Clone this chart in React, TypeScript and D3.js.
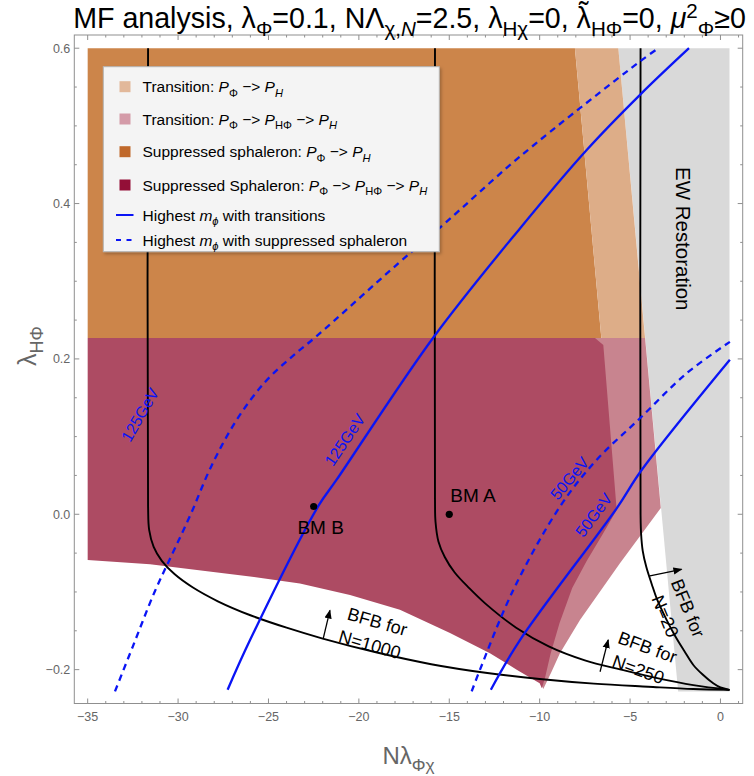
import React from 'react';
import * as d3 from 'd3';

type Pt = [number, number];

const W = 754;
const H = 776;

// Axis ticks
const xTicksMajor = [-35, -30, -25, -20, -15, -10, -5, 0];
const yTicksMajor = [-0.2, 0, 0.2, 0.4, 0.6];

// Regions in (NλΦχ, λHΦ)
const ewRestoration: Pt[] = [[-5.65, 0.6], [0.5, 0.6], [0.5, -0.228], [-2.34, -0.228]];
const suppressedPH: Pt[] = [[-35, 0.6], [-8.05, 0.6], [-6.59, 0.227], [-35, 0.227]];
const transitionPH: Pt[] = [[-8.05, 0.6], [-5.65, 0.6], [-4.17, 0.227], [-6.59, 0.227]];
const transitionPHPhi: Pt[] = [
  [-7.0, 0.227], [-4.17, 0.227], [-3.3, 0.008], [-5.56, -0.063], [-7.77, -0.136],
  [-8.88, -0.179], [-9.35, -0.203], [-9.8, -0.225], [-10.3, -0.2], [-7.5, 0.0],
];
const suppressedPHPhi: Pt[] = [
  [-35, 0.227], [-6.94, 0.227], [-6.48, 0.218], [-5.74, 0.0055], [-6.5, -0.025],
  [-7.4, -0.06], [-8.2, -0.095], [-8.9, -0.14], [-9.4, -0.18], [-9.7, -0.21],
  [-9.88, -0.224], [-10.0, -0.2176], [-11.27, -0.2], [-12.75, -0.179], [-14.96, -0.153],
  [-17.73, -0.123], [-20.49, -0.104], [-23.26, -0.089], [-26.02, -0.08], [-31.55, -0.0644],
  [-35, -0.0589],
];

// Boundedness-from-below curves
const bfb1000: Pt[] = [
  [-31.66, 0.6], [-31.66, 0.01], [-31.6, -0.02], [-31.35, -0.042], [-30.9, -0.06],
  [-30.2, -0.077], [-29.2, -0.094], [-27.8, -0.112], [-26.0, -0.13], [-24, -0.146],
  [-22, -0.16], [-19, -0.178], [-16, -0.193], [-13, -0.204], [-10, -0.212], [-7, -0.218],
  [-4, -0.222], [-1.5, -0.225], [0.5, -0.226],
];
const bfb250: Pt[] = [
  [-15.79, 0.6], [-15.79, 0.02], [-15.76, -0.01], [-15.6, -0.035], [-15.25, -0.055],
  [-14.7, -0.075], [-13.9, -0.095], [-13.0, -0.115], [-11.3, -0.146], [-9.5, -0.17],
  [-7.5, -0.188], [-5.5, -0.2], [-3.5, -0.211], [-1.5, -0.22], [0.5, -0.226],
];
const bfb20: Pt[] = [
  [-4.42, 0.6], [-4.42, 0.0], [-4.39, -0.025], [-4.3, -0.047], [-4.1, -0.068],
  [-3.8, -0.09], [-3.5, -0.11], [-3.0, -0.135], [-2.5, -0.157], [-2.0, -0.176],
  [-1.5, -0.194], [-1.0, -0.206], [-0.4, -0.2176], [0.0, -0.223], [0.5, -0.226],
];

// Highest mϕ contours
const solid125: Pt[] = [
  [-27.26, -0.226], [-26.02, -0.162], [-22.24, 0.0107], [-21.23, 0.0445], [-15.9, 0.227],
  [-11.09, 0.368], [-7.4, 0.469], [-4.45, 0.54], [-1.74, 0.6],
];
const dashed125: Pt[] = [
  [-33.49, -0.228], [-32.5, -0.17], [-31.3, -0.1], [-30.3, -0.05], [-29.3, 0.0],
  [-28.2, 0.06], [-26.8, 0.12], [-25.2, 0.17], [-23.6, 0.205], [-22.4, 0.228],
  [-17.82, 0.323], [-15.24, 0.3747], [-11.09, 0.4605], [-4.45, 0.583], [-3.44, 0.6],
];
const solid50: Pt[] = [
  [-12.7, -0.226], [-11.09, -0.162], [-5.74, 0.0077], [-4.36, 0.057], [0.52, 0.199],
];
const dashed50: Pt[] = [
  [-13.76, -0.228], [-13.3, -0.2], [-11.46, -0.0975], [-8.88, 0.0098], [-6.85, 0.07],
  [-4.45, 0.1236], [-1.87, 0.1815], [0.52, 0.222],
];

// Benchmark points
const benchmarks = [
  { name: 'BM A', x: -15.0, y: 0.0, dx: 1, dy: -12, anchor: 'start' },
  { name: 'BM B', x: -22.5, y: 0.01, dx: 7, dy: 27, anchor: 'middle' },
];

// Region colours
const cGray = '#d9d9d9';
const cOrange = '#cc854a';
const cPeach = '#ddad88';
const cCrimson = '#ad4b63';
const cPink = '#c8848f';
const cBlue = '#0a14f5';

// [text, kind, dx in em]
type Seg = [string, string, number?];

function Rich({ segs, fs, x, y, anchor, fill, transform, family }: {
  segs: Seg[]; fs: number; x: number; y: number; anchor?: string; fill?: string;
  transform?: string; family?: string;
}) {
  let cur = 0;
  const out = segs.map(([t, k, dxEm], i) => {
    let target = 0;
    let size = fs;
    let style: string | undefined;
    if (k === 'sub' || k === 'subi') { target = 0.28 * fs; size = fs * 0.72; }
    if (k === 'sup') { target = -0.36 * fs; size = fs * 0.72; }
    if (k === 'acc') { target = -0.2 * fs; }
    if (k === 'i' || k === 'subi') style = 'italic';
    const dy = target - cur;
    cur = target;
    return (
      <tspan key={i} dx={dxEm ? dxEm * fs : undefined} dy={dy} fontSize={size} fontStyle={style}>{t}</tspan>
    );
  });
  return (
    <text x={x} y={y} textAnchor={anchor || 'start'} fill={fill || '#000'}
      transform={transform} fontFamily={family || 'Liberation Sans, Arial, sans-serif'}>
      {out}
    </text>
  );
}

const legendItems: { kind: string; color: string; segs: Seg[] }[] = [
  { kind: 'box', color: '#e2b89a', segs: [['Transition: ', 'n'], ['P', 'i'], ['Φ', 'sub'], [' −> ', 'n'], ['P', 'i'], ['H', 'subi']] },
  { kind: 'box', color: '#d49ba8', segs: [['Transition: ', 'n'], ['P', 'i'], ['Φ', 'sub'], [' −> ', 'n'], ['P', 'i'], ['HΦ', 'sub'], [' −> ', 'n'], ['P', 'i'], ['H', 'subi']] },
  { kind: 'box', color: '#c0692b', segs: [['Suppressed sphaleron: ', 'n'], ['P', 'i'], ['Φ', 'sub'], [' −> ', 'n'], ['P', 'i'], ['H', 'subi']] },
  { kind: 'box', color: '#930f37', segs: [['Suppressed Sphaleron: ', 'n'], ['P', 'i'], ['Φ', 'sub'], [' −> ', 'n'], ['P', 'i'], ['HΦ', 'sub'], [' −> ', 'n'], ['P', 'i'], ['H', 'subi']] },
  { kind: 'line', color: cBlue, segs: [['Highest ', 'n'], ['m', 'i'], ['ϕ', 'subi'], [' with transitions', 'n']] },
  { kind: 'dash', color: cBlue, segs: [['Highest ', 'n'], ['m', 'i'], ['ϕ', 'subi'], [' with suppressed sphaleron', 'n']] },
];
const legendRowY = [86.7, 119, 151.7, 185, 215, 240];

const titleSegs: Seg[] = [
  ['MF analysis, λ', 'n'], ['Φ', 'sub'], ['=0.1, NΛ', 'n'], ['χ,', 'sub'], ['N', 'subi'],
  ['=2.5, λ', 'n'], ['Hχ', 'sub'], ['=0, λ', 'n'], ['˜', 'acc', -0.42], ['HΦ', 'sub', 0.085],
  ['=0, ', 'n'], ['μ', 'i'], ['2', 'sup'], ['Φ', 'sub'], ['≥0', 'n'],
];

export default function App() {
  const x = d3.scaleLinear().domain([-35.74, 1.23]).range([74.3, 742.7]);
  const y = d3.scaleLinear().domain([-0.2436, 0.617]).range([703.5, 35]);

  const poly = (pts: Pt[]) =>
    (d3.line<Pt>().x((d) => x(d[0])).y((d) => y(d[1]))(pts) || '') + 'Z';
  const smooth = d3.line<Pt>().x((d) => x(d[0])).y((d) => y(d[1])).curve(d3.curveCatmullRom.alpha(0.5));

  const [x0, x1] = x.range();
  const [y0, y1] = y.range();

  const xMinor = d3.range(-35, 2, 1).filter((v) => !xTicksMajor.includes(v));
  const yMinor = d3.range(-0.2, 0.61, 0.05).map((v) => Math.round(v * 100) / 100)
    .filter((v) => !yTicksMajor.some((m) => Math.abs(m - v) < 1e-6));

  const frameColor = '#8f8f8f';
  const labelColor = '#666';
  const font = 'Liberation Sans, Arial, sans-serif';

  const pt = (p: Pt) => [x(p[0]), y(p[1])];

  const bfbLabels = [
    { at: [-19.15, -0.1523] as Pt, rot: 16, n: 'N=1000' },
    { at: [-4.25, -0.1848] as Pt, rot: 20, n: 'N=250' },
    { at: [-2.38, -0.1263] as Pt, rot: 67.6, n: 'N=20' },
  ];
  const arrows: [Pt, Pt][] = [
    [[-21.97, -0.1597], [-21.6, -0.1236]],
    [[-6.66, -0.2027], [-6.21, -0.1618]],
    [[-3.9, -0.0794], [-2.15, -0.0708]],
  ];
  const massLabels = [
    { at: [-32.1, 0.128] as Pt, rot: -60, t: '125GeV' },
    { at: [-20.77, 0.0957] as Pt, rot: -56, t: '125GeV' },
    { at: [-8.34, 0.0462] as Pt, rot: -50, t: '50GeV' },
    { at: [-7.0, -0.001] as Pt, rot: -53, t: '50GeV' },
  ];

  return (
    <div style={{ position: 'absolute', left: 0, top: 0 }}>
      <svg width={W} height={H} viewBox={`0 0 ${W} ${H}`} style={{ display: 'block', background: '#fff' }}>
        <defs>
          <marker id="ah" viewBox="0 0 10 10" refX="9" refY="5" markerWidth="7" markerHeight="7" orient="auto-start-reverse">
            <path d="M0,1 L10,5 L0,9 Z" fill="#000" />
          </marker>
          <filter id="shadow" x="-5%" y="-5%" width="110%" height="115%">
            <feDropShadow dx="1.5" dy="2" stdDeviation="1.5" floodColor="#000" floodOpacity="0.25" />
          </filter>
        </defs>

        {/* regions */}
        <path d={poly(ewRestoration)} fill={cGray} />
        <path d={poly(suppressedPH)} fill={cOrange} />
        <path d={poly(transitionPH)} fill={cPeach} />
        <path d={poly(transitionPHPhi)} fill={cPink} />
        <path d={poly(suppressedPHPhi)} fill={cCrimson} />

        {/* BFB curves */}
        {[bfb1000, bfb250, bfb20].map((c, i) => (
          <path key={i} d={smooth(c) || ''} fill="none" stroke="#000" strokeWidth={1.9} />
        ))}

        {/* mass contours */}
        <path d={smooth(solid125) || ''} fill="none" stroke={cBlue} strokeWidth={2.3} />
        <path d={smooth(solid50) || ''} fill="none" stroke={cBlue} strokeWidth={2.3} />
        <path d={smooth(dashed125) || ''} fill="none" stroke={cBlue} strokeWidth={2.3} strokeDasharray="6.5,5" />
        <path d={smooth(dashed50) || ''} fill="none" stroke={cBlue} strokeWidth={2.3} strokeDasharray="6.5,5" />

        {massLabels.map((m, i) => {
          const [px, py] = pt(m.at);
          return (
            <text key={i} x={px} y={py} transform={`rotate(${m.rot},${px},${py})`} textAnchor="middle"
              dominantBaseline="central" fontFamily={font} fontSize={16} fill={cBlue}>{m.t}</text>
          );
        })}

        {/* BFB arrows and labels */}
        {arrows.map(([a, b], i) => (
          <line key={i} x1={x(a[0])} y1={y(a[1])} x2={x(b[0])} y2={y(b[1])} stroke="#000" strokeWidth={1.3} markerEnd="url(#ah)" />
        ))}
        {bfbLabels.map((l, i) => {
          const [px, py] = pt(l.at);
          return (
            <g key={i} transform={`translate(${px},${py}) rotate(${l.rot})`} fontFamily={font} fontSize={18} textAnchor="middle">
              <text x={0} y={-5}>BFB for</text>
              <text x={-1} y={19}>{l.n}</text>
            </g>
          );
        })}

        <text transform={`translate(${x(-2.05)},${y(0.3547)}) rotate(90)`} textAnchor="middle" dominantBaseline="central"
          fontFamily={font} fontSize={20.5}>EW Restoration</text>

        {/* benchmarks */}
        {benchmarks.map((b) => (
          <g key={b.name}>
            <circle cx={x(b.x)} cy={y(b.y)} r={3.6} fill="#000" />
            <text x={x(b.x) + b.dx} y={y(b.y) + b.dy} textAnchor={b.anchor} fontFamily={font} fontSize={19}>{b.name}</text>
          </g>
        ))}

        {/* legend */}
        <g filter="url(#shadow)">
          <rect x={103.3} y={66.7} width={336} height={185} fill="#f4f4f4" stroke="#b5b5b5" strokeWidth={1} />
        </g>
        {legendItems.map((it, i) => {
          const cy = legendRowY[i];
          return (
            <g key={i}>
              {it.kind === 'box' && <rect x={119.5} y={cy - 5.5} width={11} height={11} fill={it.color} />}
              {it.kind === 'line' && <line x1={116} x2={133.5} y1={cy} y2={cy} stroke={it.color} strokeWidth={2} />}
              {it.kind === 'dash' && <line x1={116} x2={133.5} y1={cy} y2={cy} stroke={it.color} strokeWidth={2} strokeDasharray="5,5.5" />}
              <Rich segs={it.segs} fs={15.5} x={142.5} y={cy + 5.5} />
            </g>
          );
        })}

        {/* frame and ticks */}
        <rect x={x0} y={y1} width={x1 - x0} height={y0 - y1} fill="none" stroke={frameColor} strokeWidth={1} />
        {xTicksMajor.map((v) => (
          <g key={'xm' + v}>
            <line x1={x(v)} x2={x(v)} y1={y0} y2={y0 - 5} stroke={frameColor} />
            <line x1={x(v)} x2={x(v)} y1={y1} y2={y1 + 5} stroke={frameColor} />
            <text x={x(v)} y={y0 + 17} textAnchor="middle" fontFamily={font} fontSize={12.5} fill={labelColor}>
              {v < 0 ? `−${Math.abs(v)}` : `${v}`}
            </text>
          </g>
        ))}
        {xMinor.map((v) => (
          <g key={'xn' + v}>
            <line x1={x(v)} x2={x(v)} y1={y0} y2={y0 - 2.5} stroke={frameColor} />
            <line x1={x(v)} x2={x(v)} y1={y1} y2={y1 + 2.5} stroke={frameColor} />
          </g>
        ))}
        {yTicksMajor.map((v) => (
          <g key={'ym' + v}>
            <line x1={x0} x2={x0 + 5} y1={y(v)} y2={y(v)} stroke={frameColor} />
            <line x1={x1} x2={x1 - 5} y1={y(v)} y2={y(v)} stroke={frameColor} />
            <text x={x0 - 4} y={y(v) + 4.5} textAnchor="end" fontFamily={font} fontSize={12.5} fill={labelColor}>
              {v < 0 ? `−${Math.abs(v).toFixed(1)}` : v.toFixed(1)}
            </text>
          </g>
        ))}
        {yMinor.map((v) => (
          <g key={'yn' + v}>
            <line x1={x0} x2={x0 + 2.5} y1={y(v)} y2={y(v)} stroke={frameColor} />
            <line x1={x1} x2={x1 - 2.5} y1={y(v)} y2={y(v)} stroke={frameColor} />
          </g>
        ))}

        {/* axis titles */}
        <Rich segs={[['Nλ', 'n'], ['Φχ', 'sub']]} fs={24} x={(x0 + x1) / 2} y={764} anchor="middle" fill={labelColor} />
        <Rich segs={[['λ', 'n'], ['HΦ', 'sub']]} fs={25} x={0} y={0} anchor="middle" fill={labelColor}
          transform="translate(36,346) rotate(-90)" />

        {/* title */}
        <Rich segs={titleSegs} fs={28.6} x={(x0 + x1) / 2 + 1} y={28} anchor="middle" />
      </svg>
    </div>
  );
}
